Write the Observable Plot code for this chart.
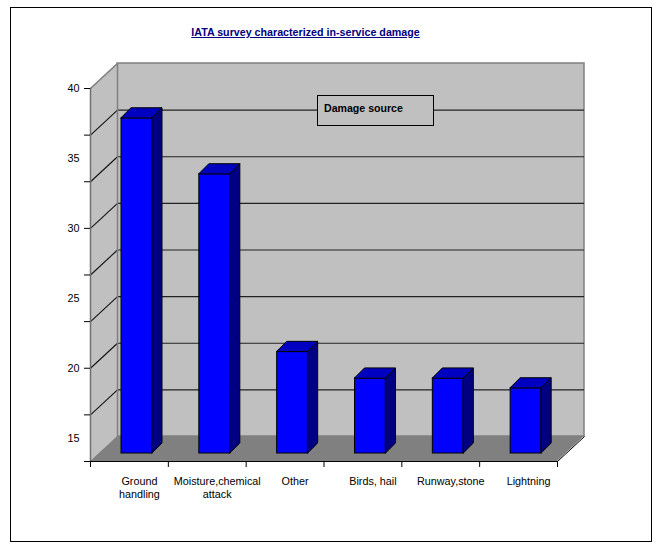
<!DOCTYPE html>
<html>
<head>
<meta charset="utf-8">
<script src="https://cdn.jsdelivr.net/npm/d3@7"></script>
<script src="https://cdn.jsdelivr.net/npm/@observablehq/plot@0.6"></script>
<style>
  html, body { margin: 0; padding: 0; background: #fff; }
  body { width: 662px; height: 544px; position: relative; overflow: hidden; font-family: "Liberation Sans", Arial, sans-serif; }
  #frame { position: absolute; left: 10px; top: 7px; width: 642px; height: 535px; border: 1px solid #000; box-sizing: border-box; }
  #title { position: absolute; left: 0; top: 26px; width: 611px; text-align: center; font-weight: bold; font-size: 10.7px; color: #000080; text-decoration: underline; line-height: 13px; }
  #chart { position: absolute; left: 0; top: 50px; }
  #legend { position: absolute; left: 317px; top: 95px; width: 117px; height: 31px; box-sizing: border-box; border: 1px solid #000; background: #C0C0C0; font-weight: bold; font-size: 10.6px; padding: 6px 0 0 6px; color: #000; }
</style>
</head>
<body>
<div id="frame"></div>
<div id="title">IATA survey characterized in-service damage</div>
<div id="chart"></div>
<div id="legend">Damage source</div>
<script>
// ---- data ----
const categories = ["Ground\nhandling", "Moisture,chemical\nattack", "Other", "Birds, hail", "Runway,stone", "Lightning"];
const values = [37.3, 33.3, 20.6, 18.7, 18.7, 18.0];
const gridTicks = [13.333, 16.667, 20, 23.333, 26.667, 30, 33.333, 36.667, 40];
const yLabels = [15, 20, 25, 30, 35, 40];

// ---- layout ----
const W = 662, H = 460, mL = 90, mR = 105, mT = 38, mB = 49;
const yMin = gridTicks[0], yMax = gridTicks[gridTicks.length - 1];
const nCat = categories.length;
const kx = (W - mL - mR) / nCat;          // px per x unit
const ky = (H - mT - mB) / (yMax - yMin); // px per y unit
const DX = 27 / kx, DY = 25 / ky;         // wall depth
const bx0 = 31 / kx, bw = 31 / kx;        // bar offset & width in band
const bdy = 8 / ky;                       // bar front sits slightly behind
const bddx = 10 / kx, bddy = 10 / ky;     // bar depth

const bars = categories.map((c, i) => ({i, c, v: values[i]}));
const sidePts = bars.flatMap(d => [
  {k: d.i, x: d.i + bx0 + bw, y1: yMin + bdy, y2: d.v + bdy},
  {k: d.i, x: d.i + bx0 + bw + bddx, y1: yMin + bdy + bddy, y2: d.v + bdy + bddy}
]);
const topPts = bars.flatMap(d => [
  {k: d.i, y: d.v + bdy, x1: d.i + bx0, x2: d.i + bx0 + bw},
  {k: d.i, y: d.v + bdy + bddy, x1: d.i + bx0 + bddx, x2: d.i + bx0 + bw + bddx}
]);
const leftWall = [
  {x: 0, y1: yMin, y2: yMax},
  {x: DX, y1: yMin + DY, y2: yMax + DY}
];
const floor = [
  {y: yMin, x1: 0, x2: nCat},
  {y: yMin + DY, x1: DX, x2: nCat + DX}
];
const inner = gridTicks.slice(1, -1);
const xTicks = d3.range(nCat + 1);

const chart = Plot.plot({
  width: W, height: H,
  marginLeft: mL, marginRight: mR, marginTop: mT, marginBottom: mB,
  x: {type: "linear", domain: [0, nCat], label: null},
  y: {domain: [yMin, yMax], label: null},
  style: {background: "transparent", fontFamily: "'Liberation Sans', Arial, sans-serif", color: "black", overflow: "visible"},
  marks: [
    // back wall
    Plot.rect([0], {x1: DX, x2: nCat + DX, y1: yMin + DY, y2: yMax + DY, fill: "#C0C0C0", stroke: "#808080", strokeWidth: 1.5}),
    // left wall
    Plot.areaY(leftWall, {x: "x", y1: "y1", y2: "y2", fill: "#C0C0C0"}),
    // floor
    Plot.areaX(floor, {y: "y", x1: "x1", x2: "x2", fill: "#808080"}),
    // back wall gridlines
    Plot.ruleY(inner, {y: d => d + DY, x1: DX, x2: nCat + DX, stroke: "#222", strokeWidth: 1.2}),
    // left wall diagonals
    Plot.link(inner, {x1: 0, y1: d => d, x2: DX, y2: d => d + DY, stroke: "#111", strokeWidth: 1.1}),
    Plot.link([yMax], {x1: 0, y1: d => d, x2: DX, y2: d => d + DY, stroke: "#808080", strokeWidth: 1.5}),
    Plot.ruleX([DX], {x: d => d, y1: yMin + DY, y2: yMax + DY, stroke: "#808080", strokeWidth: 1.5}),
    // floor right edge
    Plot.link([nCat], {x1: d => d, y1: yMin, x2: d => d + DX, y2: yMin + DY, stroke: "black", strokeWidth: 1}),
    // front axis lines
    Plot.ruleX([0], {y1: yMin, y2: yMax, stroke: "#707070", strokeWidth: 1.5}),
    Plot.ruleY([yMin], {x1: 0, x2: nCat, stroke: "black", strokeWidth: 1.2}),
    // bars
    Plot.rect(bars, {x1: d => d.i + bx0, x2: d => d.i + bx0 + bw, y1: yMin + bdy, y2: d => d.v + bdy, fill: "#0000FF", stroke: "black", strokeWidth: 1}),
    Plot.areaY(sidePts, {x: "x", y1: "y1", y2: "y2", z: "k", fill: "#000080", stroke: "black", strokeWidth: 1}),
    Plot.areaX(topPts, {y: "y", x1: "x1", x2: "x2", z: "k", fill: "#0000C0", stroke: "black", strokeWidth: 1}),
    // axes
    Plot.axisY({ticks: gridTicks, tickFormat: () => "", tickSize: 6, label: null, stroke: "black"}),
    Plot.axisY({ticks: yLabels, tickSize: 0, tickPadding: 11, fontSize: 10.8, label: null, fill: "black"}),
    Plot.axisX({ticks: xTicks, tickFormat: () => "", tickSize: 6, label: null, stroke: "black"}),
    Plot.text(bars, {x: d => d.i + 0.5, y: yMin, text: "c", dx: 10, dy: 14, lineAnchor: "top", fontSize: 10.8, lineHeight: 1.2, fill: "black"})
  ]
});
document.getElementById("chart").appendChild(chart);
</script>
</body>
</html>
